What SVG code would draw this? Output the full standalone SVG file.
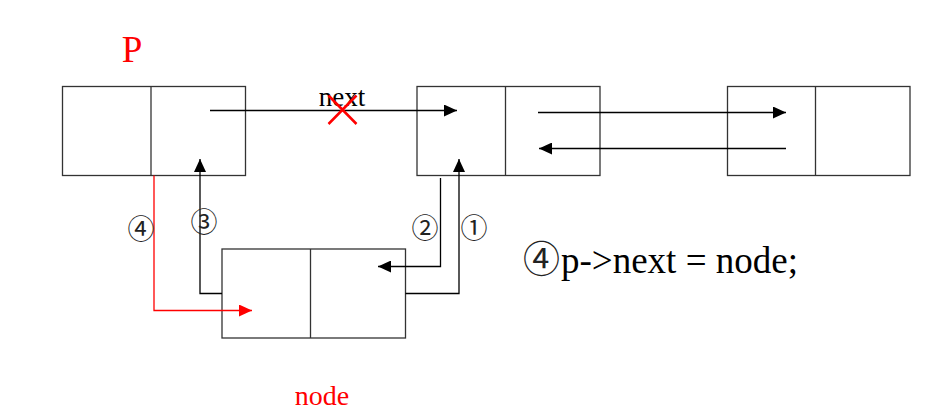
<svg xmlns="http://www.w3.org/2000/svg" width="943" height="411" viewBox="0 0 943 411">
<style>
.box{fill:#fff;stroke:#333;stroke-width:1.3}
.ln{fill:none;stroke:#000;stroke-width:1.3}
.red{fill:none;stroke:#f00;stroke-width:1.3}
.t{font-family:"Liberation Serif","Noto Serif CJK SC","Noto Sans CJK SC",serif;fill:#000}
.c{font-family:"Noto Sans CJK SC","DejaVu Sans",sans-serif;fill:#222}
</style>
<defs>
<marker id="ab" markerWidth="13" markerHeight="12" refX="13" refY="6" orient="auto" markerUnits="userSpaceOnUse"><path d="M0,0 L13,6 L0,12 z" fill="#000"/></marker>
<marker id="ar" markerWidth="13" markerHeight="12" refX="13" refY="6" orient="auto" markerUnits="userSpaceOnUse"><path d="M0,0 L13,6 L0,12 z" fill="#f00"/></marker>
</defs>
<rect width="943" height="411" fill="#fff"/>
<g id="nodeP">
<rect class="box" x="62.5" y="86.5" width="183" height="89"/>
<line class="box" x1="151" y1="86.5" x2="151" y2="175.5"/>
<text x="132" y="62" font-size="37" fill="#f00" text-anchor="middle" font-family="Liberation Serif,serif">P</text>
</g>
<g id="node2">
<rect class="box" x="417" y="86.5" width="183" height="89"/>
<line class="box" x1="505.5" y1="86.5" x2="505.5" y2="175.5"/>
</g>
<g id="node3">
<rect class="box" x="727.5" y="86.5" width="182.5" height="89"/>
<line class="box" x1="815.5" y1="86.5" x2="815.5" y2="175.5"/>
</g>
<g id="newnode">
<rect class="box" x="222" y="249" width="183.5" height="89"/>
<line class="box" x1="310.5" y1="249" x2="310.5" y2="338"/>
<text x="322" y="405" font-size="28" fill="#f00" text-anchor="middle" font-family="Liberation Serif,serif">node</text>
</g>
<g id="connectors">
<line class="ln" x1="210" y1="110.5" x2="457" y2="110.5" marker-end="url(#ab)"/>
<text class="t" x="342" y="106" font-size="27" text-anchor="middle">next</text>
<path d="M328.5,95.5 L356.5,124 M356.5,95.5 L328.5,124" stroke="#f00" stroke-width="2.5" fill="none"/>
<line class="ln" x1="538" y1="112.5" x2="786" y2="112.5" marker-end="url(#ab)"/>
<line class="ln" x1="786" y1="148.5" x2="539" y2="148.5" marker-end="url(#ab)"/>
<polyline class="ln" points="405.5,293.5 459,293.5 459,159" marker-end="url(#ab)"/>
<polyline class="ln" points="440.5,178 440.5,266.5 378,266.5" marker-end="url(#ab)"/>
<polyline class="ln" points="222,293.5 200,293.5 200,159" marker-end="url(#ab)"/>
<polyline class="red" points="154,175.5 154,310.5 252,310.5" marker-end="url(#ar)"/>
<text class="c" x="141" y="239" font-size="27" text-anchor="middle">④</text>
<text class="c" x="204" y="232" font-size="27" text-anchor="middle">③</text>
<text class="c" x="425" y="238" font-size="27" text-anchor="middle">②</text>
<text class="c" x="474" y="238" font-size="27" text-anchor="middle">①</text>
</g>
<text x="523" y="273" font-size="37"><tspan class="c" font-size="37">④</tspan><tspan class="t" dx="1">p-&gt;next = node;</tspan></text>
</svg>
